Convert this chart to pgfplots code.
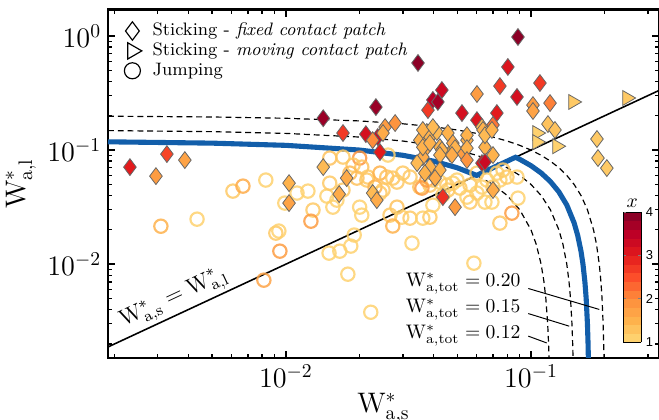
\documentclass[border=0pt]{standalone}
\usepackage{pgfplots}
\pgfplotsset{compat=1.18}
\usetikzlibrary{calc}
\usepackage{fontspec}
\newfontfamily\cbfont{Liberation Sans}
\definecolor{bluec}{RGB}{18,94,170}
\begin{document}
\begin{tikzpicture}
\useasboundingbox (-55.1pt,-31.3pt) rectangle (281.1pt,182.55pt);
\begin{axis}[
  at={(0,0)}, anchor=south west,
  scale only axis, width=281.1pt, height=177.7pt,
  xmode=log, ymode=log,
  xmin=0.00188, xmax=0.333, ymin=0.00151, ymax=1.706,
  axis line style={line width=1.1pt},
  tick style={line width=0.7pt, black},
  major tick length=3.6pt, minor tick length=2.2pt,
  tick label style={font=\Large},
  xlabel={$\mathrm{W}^{*}_{\mathrm{a,s}}$},
  ylabel={$\mathrm{W}^{*}_{\mathrm{a,l}}$},
  label style={font=\Large},
  xlabel style={yshift=4pt},
  ylabel style={yshift=-1pt},
  colormap={ylorrd}{rgb255(0)=(254,217,118) rgb255(1)=(254,178,76) rgb255(2)=(253,141,60) rgb255(3)=(252,78,42) rgb255(4)=(227,26,28) rgb255(5)=(189,0,38) rgb255(6)=(128,0,38)},
  point meta min=1, point meta max=4,
  colorbar sampled,
  colorbar shift/.style={xshift=0pt},
  colorbar style={
    at={($(parent axis.south west)+(262.8pt,8pt)$)}, anchor=south west,
    scale only axis, width=9.2pt, height=66.3pt,
    samples=16,
    ytick={1,2,3,4}, yticklabels={1,2,3,4},
    yticklabel style={font=\cbfont\fontsize{6.6}{7}\selectfont, xshift=-1.2pt},
    major tick length=1.5pt,
    tick style={line width=0.4pt},
    axis line style={line width=0.5pt},
    title={$x$}, title style={font=\normalsize, yshift=-7pt},
  },
  legend style={at={(axis description cs:0.029,0.969)}, anchor=north west, draw=none, fill=none, inner sep=0pt,
    font=\fontsize{9.2}{11}\selectfont, row sep=-0.35pt, column sep=5pt,
    nodes={inner sep=0.5pt, text height=7pt, text depth=2.5pt}},
  legend cell align=left,
]
% Jumping (circles)
\addplot[forget plot, scatter, only marks, point meta=explicit, mark=o, mark size=3.4pt,
  scatter/use mapped color={draw=mapped color},
  mark options={line width=1.1pt, draw opacity=0.85}] table[meta=m] {
x y m
0.00309 0.0215 1.5
0.00434 0.0248 1.1
0.00608 0.0437 1.2
0.00668 0.0483 1.6
0.00828 0.0546 1.1
0.0099 0.0343 1.1
0.0111 0.0420 1.1
0.0123 0.0437 1.1
0.0129 0.0298 1.2
0.01265 0.0238 1.8
0.0091 0.0187 1.2
0.00936 0.0195 1.1
0.00945 0.0130 1.8
0.00813 0.00724 1.7
0.0147 0.0395 1.1
0.01555 0.0316 1.1
0.0204 0.0269 1.1
0.0190 0.0180 1.1
0.0150 0.0125 1.1
0.0166 0.0130 1.1
0.0184 0.0144 1.1
0.0179 0.00817 1.1
0.0327 0.0153 1.1
0.0585 0.0102 1.1
0.0222 0.00379 1.1
0.0200 0.0851 1.9
0.0204 0.0709 1.3
0.0188 0.0738 1.2
0.0214 0.0546 1.2
0.0195 0.0568 1.3
0.0151 0.0513 1.2
0.0171 0.0868 1.2
0.0151 0.0851 1.3
0.01825 0.0628 1.4
0.0216 0.0580 1.2
0.0242 0.0628 1.5
0.0258 0.0580 1.3
0.0273 0.0568 1.2
0.0284 0.0524 1.2
0.0231 0.0474 1.5
0.0249 0.0446 1.2
0.0300 0.0628 1.2
0.0321 0.0580 1.2
0.0352 0.0474 1.3
0.0387 0.0493 1.2
0.0376 0.0546 1.8
0.0398 0.0546 1.2
0.0425 0.0524 1.1
0.0454 0.0493 1.2
0.0602 0.0628 1.2
0.0661 0.0546 1.1
0.0726 0.0628 1.1
0.0769 0.0668 1.2
0.0631 0.0474 1.1
0.0700 0.0474 1.2
0.0499 0.0546 1.1
0.0171 0.0446 1.2
0.01615 0.0364 1.1
0.0261 0.0904 1.1
0.0242 0.0420 1.2
0.0359 0.0464 1.8
0.0480 0.0513 1.1
0.0513 0.0464 1.2
0.0564 0.0493 1.2
0.0602 0.0420 1.1
0.0747 0.0546 1.1
0.0798 0.0580 1.2
0.0649 0.0350 1.1
0.0693 0.0350 1.1
0.0877 0.0580 1.1
0.0885 0.0379 1.1
0.0284 0.0316 1.3
0.0266 0.0269 1.2
0.0297 0.0258 1.1
0.0321 0.0253 1.2
0.0362 0.0253 1.1
0.0387 0.0258 1.2
0.0747 0.0229 1.2
0.0836 0.0280 1.8
0.0548 0.0387 1.1
0.0564 0.0350 1.2
0.0437 0.0403 1.1
0.0458 0.0446 1.2
0.0398 0.0329 1.1
0.0200 0.0316 1.1
0.0273 0.0216 1.5
};
% Sticking, fixed contact patch (diamonds)
\addplot[forget plot, scatter, only marks, point meta=explicit, mark=diamond*, mark size=4.3pt,
  scatter/use mapped color={draw=black!60, fill=mapped color},
  mark options={line width=0.4pt}] table[meta=m] {
x y m
0.00231 0.0709 3.0
0.00327 0.0922 2.6
0.00295 0.0591 1.8
0.00387 0.0817 1.7
0.0103 0.0513 1.5
0.0103 0.0343 1.7
0.0142 0.190 3.8
0.0171 0.141 2.7
0.0212 0.138 3.2
0.0142 0.0709 1.4
0.0177 0.0568 1.6
0.0165 0.0411 1.6
0.0237 0.130 3.3
0.0226 0.122 2.0
0.0242 0.0960 3.0
0.0254 0.159 1.8
0.0279 0.1725 1.9
0.0233 0.238 3.8
0.0346 0.580 3.9
0.0380 0.224 2.7
0.0398 0.275 3.5
0.0417 0.264 3.7
0.0433 0.336 3.3
0.0523 0.211 3.2
0.0602 0.183 3.1
0.0602 0.310 1.8
0.0726 0.211 3.0
0.0700 0.166 2.2
0.0805 0.535 3.1
0.0747 0.364 2.7
0.0877 0.292 3.2
0.0885 0.98 3.9
0.1088 0.387 2.7
0.1019 0.248 1.8
0.1019 0.220 1.7
0.1196 0.258 2.1
0.0376 0.144 1.4
0.0352 0.122 1.5
0.0376 0.106 1.6
0.0387 0.130 1.5
0.0413 0.144 1.4
0.0362 0.0868 1.6
0.0425 0.106 1.5
0.0458 0.141 1.5
0.0467 0.0941 1.5
0.0548 0.122 1.5
0.0631 0.159 1.4
0.0649 0.106 1.5
0.0631 0.0769 3.1
0.0700 0.0904 1.5
0.0700 0.0446 1.6
0.0528 0.0941 1.8
0.0437 0.0387 2.8
0.0490 0.0316 1.8
0.0343 0.0769 1.4
0.0387 0.0709 1.5
0.0249 0.141 1.6
0.0362 0.150 1.5
0.0398 0.159 1.4
0.0548 0.135 1.5
0.0637 0.150 1.5
0.0649 0.135 1.4
0.0693 0.150 1.5
0.0362 0.106 1.5
0.0387 0.115 1.5
0.0433 0.100 1.5
0.0480 0.115 1.6
0.0490 0.104 1.5
0.0548 0.104 1.5
0.0425 0.0904 1.5
0.0476 0.0904 1.6
0.0548 0.0817 1.9
0.0369 0.0628 1.5
0.0425 0.0668 1.5
0.0406 0.0568 1.6
0.0649 0.0785 3.3
0.0226 0.0420 1.4
0.0235 0.0364 1.6
0.1173 0.169 1.3
0.1253 0.150 1.3
0.1859 0.125 1.2
0.1877 0.0851 1.2
0.204 0.0695 1.2
};
% Sticking, moving contact patch (triangles)
\addplot[forget plot, scatter, only marks, point meta=explicit, mark=triangle*, mark size=4.4pt,
  scatter/use mapped color={draw=black!60, fill=mapped color},
  mark options={rotate=-90, line width=0.4pt}] table[meta=m] {
x y m
0.1484 0.264 1.2
0.2465 0.286 1.2
0.1058 0.141 1.1
0.1058 0.1175 1.1
0.1277 0.108 1.1
};
% W_tot = const lines
\addplot[forget plot, black, line width=0.6pt, dash pattern=on 3pt off 2pt] coordinates {
(0.00188,0.19812) (0.005,0.195) (0.01,0.19) (0.02,0.18) (0.03,0.17) (0.04,0.16) (0.05,0.15) (0.06,0.14) (0.07,0.13) (0.08,0.12) (0.09,0.11) (0.10,0.10) (0.11,0.09) (0.12,0.08) (0.13,0.07) (0.14,0.06) (0.15,0.05) (0.16,0.04) (0.17,0.03) (0.18,0.02) (0.185,0.015) (0.19,0.01) (0.193,0.007) (0.195,0.005) (0.197,0.003) (0.198,0.002) (0.1985,0.0015)};
\addplot[forget plot, black, line width=0.6pt, dash pattern=on 3pt off 2pt] coordinates {
(0.00188,0.14812) (0.005,0.145) (0.01,0.14) (0.02,0.13) (0.03,0.12) (0.04,0.11) (0.05,0.10) (0.06,0.09) (0.07,0.08) (0.08,0.07) (0.09,0.06) (0.10,0.05) (0.11,0.04) (0.12,0.03) (0.13,0.02) (0.135,0.015) (0.14,0.01) (0.143,0.007) (0.145,0.005) (0.147,0.003) (0.148,0.002) (0.1485,0.0015)};
\addplot[forget plot, black, line width=0.6pt, dash pattern=on 3pt off 2pt] coordinates {
(0.00188,0.11812) (0.005,0.115) (0.01,0.11) (0.02,0.10) (0.03,0.09) (0.04,0.08) (0.05,0.07) (0.06,0.06) (0.07,0.05) (0.08,0.04) (0.09,0.03) (0.10,0.02) (0.105,0.015) (0.11,0.01) (0.113,0.007) (0.115,0.005) (0.117,0.003) (0.118,0.002) (0.1185,0.0015)};
% W_s = W_l
\addplot[forget plot, black, line width=0.8pt] coordinates {(0.00188,0.00188) (0.333,0.333)};
% blue boundary
\addplot[forget plot, bluec, line width=2.6pt] coordinates {
(0.00188,0.11812) (0.005,0.115) (0.01,0.11) (0.02,0.10) (0.03,0.09) (0.04,0.08) (0.05,0.07) (0.06,0.06) (0.0865,0.0865) (0.09,0.083) (0.10,0.073) (0.11,0.063) (0.12,0.053) (0.13,0.043) (0.14,0.033) (0.15,0.023) (0.155,0.018) (0.16,0.013) (0.163,0.01) (0.166,0.007) (0.168,0.005) (0.170,0.003) (0.171,0.002) (0.1715,0.0015)};
% legend
\addlegendimage{only marks, mark=diamond, mark size=4.7pt, black, line width=0.6pt}
\addlegendentry{Sticking - \textit{fixed contact patch}}
\addlegendimage{only marks, mark=triangle, mark size=4.8pt, black, line width=0.6pt, mark options={rotate=-90}}
\addlegendentry{Sticking - \textit{moving contact patch}}
\addlegendimage{only marks, mark=o, mark size=4.1pt, black, line width=0.6pt}
\addlegendentry{Jumping}
% annotations
\node[rotate=25, anchor=south, font=\fontsize{11.5}{14}\selectfont, inner sep=1.5pt] at (axis cs:0.00373,0.00373) {$\mathrm{W}^{*}_{\mathrm{a,s}}=\mathrm{W}^{*}_{\mathrm{a,l}}$};
\node[anchor=east, font=\normalsize, inner sep=1pt] at (axis cs:0.0927,0.00670) {$\mathrm{W}^{*}_{\mathrm{a,tot}}=0.20$};
\node[anchor=east, font=\normalsize, inner sep=1pt] at (axis cs:0.0927,0.00403) {$\mathrm{W}^{*}_{\mathrm{a,tot}}=0.15$};
\node[anchor=east, font=\normalsize, inner sep=1pt] at (axis cs:0.0927,0.00238) {$\mathrm{W}^{*}_{\mathrm{a,tot}}=0.12$};
\draw[line width=0.5pt] (axis cs:0.0975,0.00612) -- (axis cs:0.190,0.00401);
\draw[line width=0.5pt] (axis cs:0.0975,0.00369) -- (axis cs:0.1433,0.00286);
\draw[line width=0.5pt] (axis cs:0.0975,0.00234) -- (axis cs:0.1159,0.00204);
\end{axis}
\end{tikzpicture}
\end{document}
